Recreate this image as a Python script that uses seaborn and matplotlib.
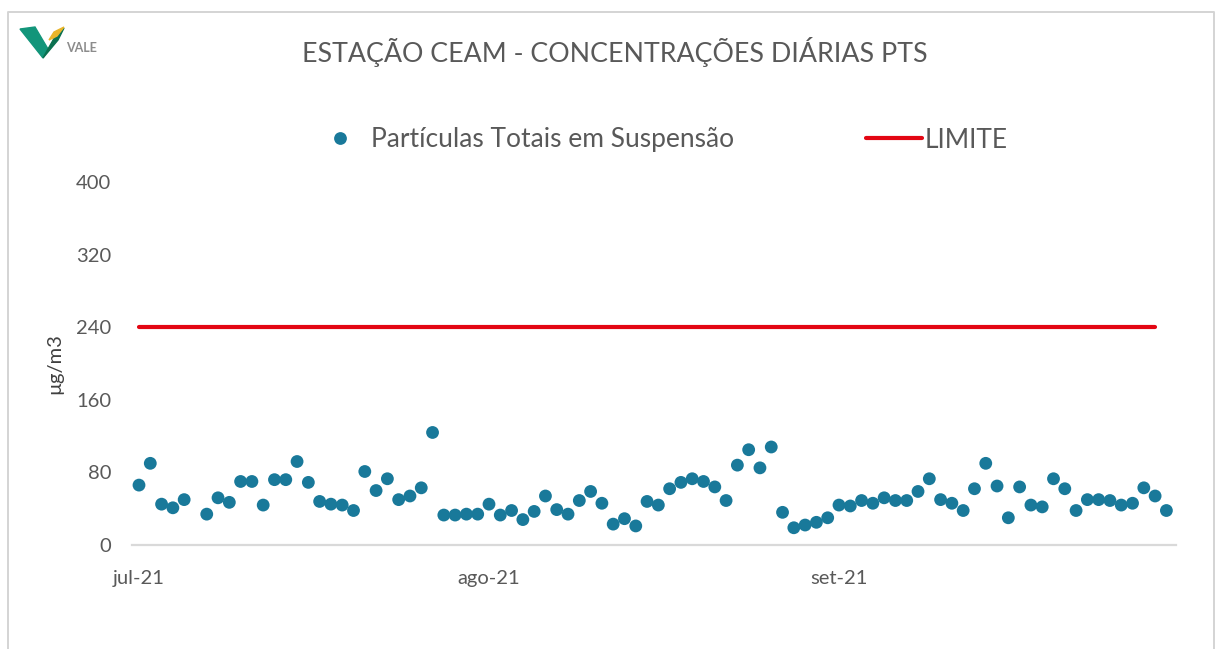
"""Daily PTS concentrations at the CEAM station, Jul-Sep 2021."""

import matplotlib

matplotlib.use("Agg")
import matplotlib.dates as mdates
import matplotlib.pyplot as plt
import numpy as np
import pandas as pd
import seaborn as sns
from matplotlib.lines import Line2D
from matplotlib.patches import Polygon

TITLE = "ESTAÇÃO CEAM - CONCENTRAÇÕES DIÁRIAS PTS"
SERIES_LABEL = "Partículas Totais em Suspensão"
LIMIT_LABEL = "LIMITE"
Y_LABEL = "µg/m3"

# one value per day from 2021-07-01 to 2021-09-30 (NaN = no sample)
DAY_START = "2021-07-01"
DAY_END = "2021-09-30"
PTS_JUL = [66, 90, 45, 41, 50, np.nan, 34, 52, 47, 70, 70, 44, 72, 72, 92, 69,
           48, 45, 44, 38, 81, 60, 73, 50, 54, 63, 124, 33, 33, 34, 34]
PTS_AUG = [45, 33, 38, 28, 37, 54, 39, 34, 49, 59, 46, 23, 29, 21, 48, 44,
           62, 69, 73, 70, 64, 49, 88, 105, 85, 108, 36, 19, 22, 25, 30]
PTS_SEP = [44, 43, 49, 46, 52, 49, 49, 59, 73, 50, 46, 38, 62, 90, 65, 30,
           64, 44, 42, 73, 62, 38, 50, 50, 49, 44, 46, 63, 54, 38]

LIMIT_DATES = ["2021-07-01", "2021-09-29"]
LIMIT_VALUES = [240, 240]

Y_TICKS = [0, 80, 160, 240, 320, 400]
X_TICKS = ["2021-07-01", "2021-08-01", "2021-09-01"]
X_TICK_LABELS = ["jul-21", "ago-21", "set-21"]

DOT_COLOR = "#19799A"
LIMIT_COLOR = "#E30613"
TEXT_COLOR = "#595959"

W, H = 1216, 649

sns.set_theme(style="white")
plt.rcParams["font.family"] = ["Lato", "DejaVu Sans"]

pts = pd.DataFrame({
    "date": pd.date_range(DAY_START, DAY_END, freq="D"),
    "value": PTS_JUL + PTS_AUG + PTS_SEP,
}).dropna()
limit = pd.DataFrame({"date": pd.to_datetime(LIMIT_DATES), "value": LIMIT_VALUES})

fig = plt.figure(figsize=(W / 100, H / 100), dpi=100)
ax = fig.add_axes([132 / W, 1 - 545 / H, (1176 - 132) / W, (545 - 182) / H])

sns.lineplot(data=limit, x="date", y="value", color=LIMIT_COLOR, linewidth=3,
             solid_capstyle="round", ax=ax)
sns.scatterplot(data=pts, x="date", y="value", color=DOT_COLOR, s=85,
                edgecolor="none", ax=ax, zorder=3)

x0 = mdates.date2num(pd.Timestamp(DAY_START))
ax.set_xlim(x0 - 0.62, x0 + 91.85)
ax.set_ylim(0, 400)
ax.set_yticks(Y_TICKS)
ax.set_xticks(mdates.date2num(pd.to_datetime(X_TICKS)))
ax.set_xticklabels(X_TICK_LABELS)
ax.tick_params(axis="both", length=0, labelsize=14.5, labelcolor=TEXT_COLOR)
ax.tick_params(axis="y", pad=15)
ax.tick_params(axis="x", pad=18)
ax.set_xlabel("")
ax.set_ylabel(Y_LABEL, fontsize=14.5, color="#404040")
ax.yaxis.set_label_coords(-0.066, 0.5)
for side in ["top", "left", "right"]:
    ax.spines[side].set_visible(False)
ax.spines["bottom"].set_color("#D9D9D9")
ax.spines["bottom"].set_linewidth(1.6)
ax.grid(False)

fig.text(615 / W, 1 - 52 / H, TITLE, ha="center", va="center",
         fontsize=19.3, color=TEXT_COLOR)

handles = [
    Line2D([], [], marker="o", linestyle="none", markersize=9.2,
           markerfacecolor=DOT_COLOR, markeredgecolor="none"),
    Line2D([], [], color=LIMIT_COLOR, linewidth=3),
]
fig.legend(handles, [SERIES_LABEL, LIMIT_LABEL], loc="center",
           bbox_to_anchor=(660 / W, 1 - 140 / H), ncol=2, frameon=False,
           fontsize=19, labelcolor=TEXT_COLOR, handlelength=2.12,
           handletextpad=0.1, columnspacing=5.0)

# frame and logo, drawn in pixel coordinates
deco = fig.add_axes([0, 0, 1, 1], zorder=-1)
deco.set_xlim(0, W)
deco.set_ylim(H, 0)
deco.axis("off")
deco.plot([8, 8, 1214, 1214], [H, 11.5, 11.5, H], color="#D4D4D4", linewidth=1.4)
deco.add_patch(Polygon([(20, 29), (35, 27), (48, 49), (43, 58)], color="#12957A"))
deco.add_patch(Polygon([(43, 58), (48, 49), (56, 35), (64, 28), (58, 40)], color="#0B7150"))
deco.add_patch(Polygon([(49, 40), (54, 32), (64, 27), (57, 36)], color="#E9B52A"))
deco.text(66, 48, "VALE", ha="left", va="center", fontsize=9,
          fontweight="bold", color="#8C8C8C")

fig.savefig("out.png", dpi=100)
